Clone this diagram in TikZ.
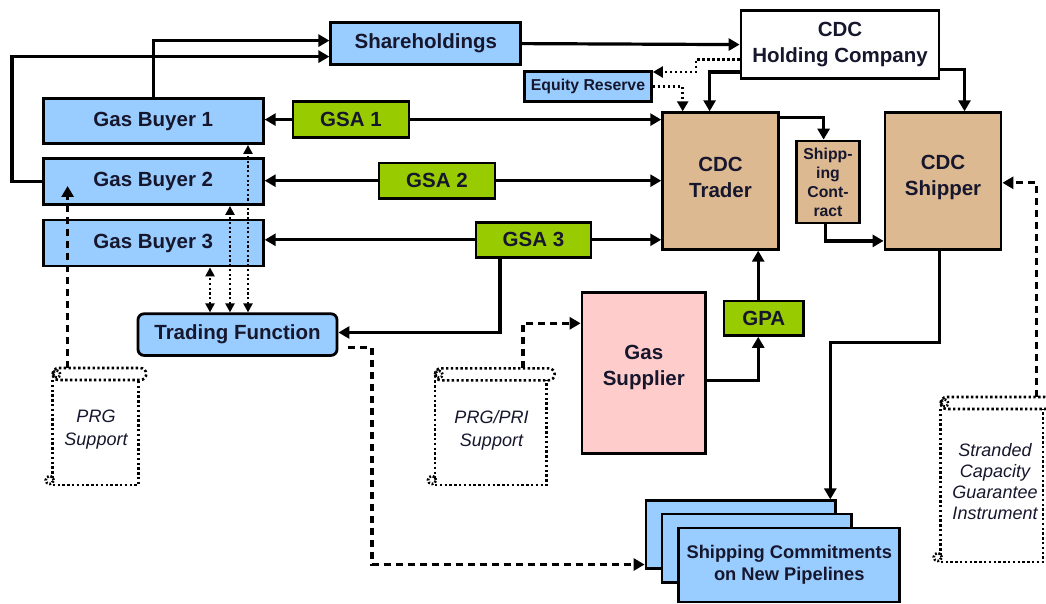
\documentclass[tikz,border=0pt]{standalone}
\usepackage{fontspec}
\setmainfont{Liberation Sans}
\usetikzlibrary{arrows.meta}
\definecolor{textc}{RGB}{22,22,45}
\definecolor{bluef}{RGB}{153,204,255}
\definecolor{greenf}{RGB}{153,204,0}
\definecolor{tanf}{RGB}{221,185,145}
\definecolor{pinkf}{RGB}{255,204,204}
\newcommand\drawscroll[4]{% L T R B
  \draw[scrl] (#1,#2+12) -- (#1,#4-3);
  \draw[scrl] (#1,#4) -- (#3,#4) -- (#3,#2+12);
  \draw[scrl, rounded corners=6pt] (#1,#2+12) -- (#1,#2) -- (#3+8,#2) -- (#3+8,#2+12) -- cycle;
  \draw[scrl, dash pattern=on 1.8pt off 1.8pt] (#1+4,#2+6) circle[radius=3.5pt];
  \draw[scrl, dash pattern=on 1.8pt off 1.8pt] (#1-3,#4-5) circle[radius=4pt];
}
\begin{document}
\begin{tikzpicture}[x=1pt,y=-1pt,
  box/.style={draw=black, line width=2.8pt, inner sep=0pt, align=center, text=textc,
              font=\bfseries\fontsize{20.5}{26}\selectfont},
  btxt/.style={inner sep=0pt, align=center, text=textc, font=\bfseries\fontsize{20.5}{26}\selectfont},
  wh/.style 2 args={minimum width=#1pt, minimum height=#2pt},
  bl/.style={box, fill=bluef},
  gr/.style={box, fill=greenf},
  tn/.style={box, fill=tanf},
  conn/.style={line width=3.2pt, -{Triangle[length=11pt,width=12pt]}},
  dotc/.style={line width=2.8pt, dash pattern=on 2.5pt off 2.5pt, -{Triangle[length=10pt,width=11pt]}},
  dotd/.style={line width=2.2pt, dash pattern=on 2.2pt off 2.5pt,
               {Triangle[length=9pt,width=9pt]}-{Triangle[length=9pt,width=9pt]}},
  dashl/.style={line width=3.3pt, dash pattern=on 7pt off 5pt, -{Triangle[length=11pt,width=12pt]}},
  scrl/.style={line width=2.6pt, dash pattern=on 2.4pt off 2.4pt},
  stxt/.style={align=center, text=textc, inner sep=0pt, font=\itshape\fontsize{18}{23}\selectfont}
]
\useasboundingbox[fill=white] (0,0) rectangle (1046,604);

% boxes
\node[bl, wh={190}{42}] (sh) at (425.8,43.6) {Shareholdings};
\node[box, fill=white, wh={198}{68}] (hold) at (840,44.6) {CDC\\Holding Company};
\node[bl, wh={127}{30}, font=\bfseries\fontsize{15.8}{19}\selectfont] (er) at (588,86.8) {Equity Reserve};
\node[bl, wh={220}{45}] (gb1) at (153.3,121) {Gas Buyer 1};
\node[bl, wh={220}{46}] (gb2) at (153.3,181.5) {Gas Buyer 2};
\node[bl, wh={220}{46}] (gb3) at (153.3,243) {Gas Buyer 3};
\node[gr, wh={116}{36}] (gsa1) at (351,119.6) {GSA 1};
\node[gr, wh={116}{35.5}] (gsa2) at (437,180.7) {GSA 2};
\node[gr, wh={115}{35}] (gsa3) at (533.5,239.8) {GSA 3};
\node[tn, wh={115.7}{136.6}] (tr) at (720.5,181) {};
\node[btxt] (trt) at (720.5,177.5) {CDC\\Trader};
\node[tn, wh={62.7}{82}, font=\bfseries\fontsize{15.8}{19}\selectfont] (sc) at (828,182) {Shipp-\\ing\\Cont-\\ract};
\node[tn, wh={116}{136.6}] (sp) at (943,181) {};
\node[btxt] (spt) at (943,177.5) {CDC\\Shipper};
\node[bl, wh={199}{41.6}, rounded corners=6pt] (tf) at (237.5,334.6) {Trading Function};
\node[box, fill=pinkf, wh={123.5}{160.8}] (gs) at (643.8,373) {};
\node[btxt] (gst) at (643.8,367) {Gas\\Supplier};
\node[gr, wh={79.5}{34.4}] (gpa) at (763.8,318.2) {GPA};
\node[bl, wh={189.4}{67.4}] (back) at (740.7,534.5) {};
\node[bl, wh={189.8}{68.6}] (mid) at (756.9,548.3) {};
\node[bl, wh={221}{74}, font=\bfseries\fontsize{18.3}{22}\selectfont] (front) at (789.25,565) {Shipping Commitments\\on New Pipelines};

% scrolls
\drawscroll{52.7}{368}{138.3}{485}
\drawscroll{435}{368.3}{546.7}{485}
\drawscroll{940.7}{397}{1043}{562}
\node[stxt] (prg) at (96,430) {PRG\\Support};
\node[stxt] (pri) at (491.5,430) {PRG/PRI\\Support};
\node[stxt, font=\itshape\fontsize{18}{21}\selectfont] (sci) at (995,481.5) {Stranded\\Capacity\\Guarantee\\Instrument};
\coordinate (prgtop) at (67.6,368);
\coordinate (prgtip) at (67.6,186);
\coordinate (pritop) at (523,368.3);
\coordinate (scitop) at (1036.7,397);

% solid connectors
\draw[conn] (gb1.north) |- ([yshift=3pt]sh.west);
\draw[conn] (gb2.west) -- ++(-30,0) |- ([yshift=-13pt]sh.west);
\draw[conn] (sh.east) -- (hold.west);
\draw[conn] ([yshift=-27.4pt]hold.west) -| ([xshift=-10.9pt]tr.north);
\draw[conn] ([yshift=-25.2pt]hold.east) -| ([xshift=21.5pt]sp.north);
\draw[conn] (gsa1.west) -- (gsa1.west -| gb1.east);
\draw[conn] (gsa1.east) -- (gsa1.east -| tr.west);
\draw[conn] (gsa2.west) -- (gsa2.west -| gb2.east);
\draw[conn] (gsa2.east) -- (gsa2.east -| tr.west);
\draw[conn] (gsa3.west) -- (gsa3.west -| gb3.east);
\draw[conn] (gsa3.east) -- (gsa3.east -| tr.west);
\draw[conn] ([yshift=-6pt]tr.north east) -| ([xshift=-4.4pt]sc.north);
\draw[conn] ([xshift=-2.7pt]sc.south) |- ([yshift=-59.9pt]sp.west);
\draw[conn] ([xshift=-3.6pt]sp.south) -- ++(0,91.5) -| ([xshift=89.6pt]back.north);
\draw[conn] ([yshift=-7.6pt]gs.east) -| ([xshift=-5.6pt]gpa.south);
\draw[conn] ([xshift=-5.6pt]gpa.north) -- ([xshift=-5.6pt]gpa.north |- tr.south);
\draw[conn] ([xshift=-33.5pt]gsa3.south) |- ([yshift=2.1pt]tf.east);

% dotted connectors
\draw[dotc] ([yshift=-14.8pt]hold.west) -| (696,72) -- ([yshift=14.8pt]er.east);
\draw[dotc] (er.east) -| ([xshift=-37.8pt]tr.north);
\draw[dotd] ([xshift=-27.5pt]tf.north) -- ([xshift=-27.5pt]tf.north |- gb3.south);
\draw[dotd] ([xshift=-7.5pt]tf.north) -- ([xshift=-7.5pt]tf.north |- gb2.south);
\draw[dotd] ([xshift=10.5pt]tf.north) -- ([xshift=10.5pt]tf.north |- gb1.south);

% dashed connectors
\draw[dashl] (prgtop) -- (prgtip);
\draw[dashl] (pritop) |- ([yshift=49.7pt]gs.west);
\draw[dashl] (scitop) |- ([yshift=-1.8pt]sp.east);
\draw[dashl] ([xshift=10pt,yshift=-13.1pt]tf.east) -- ++(23.5,0) |- ([yshift=-30pt]back.west);
\end{tikzpicture}
\end{document}
